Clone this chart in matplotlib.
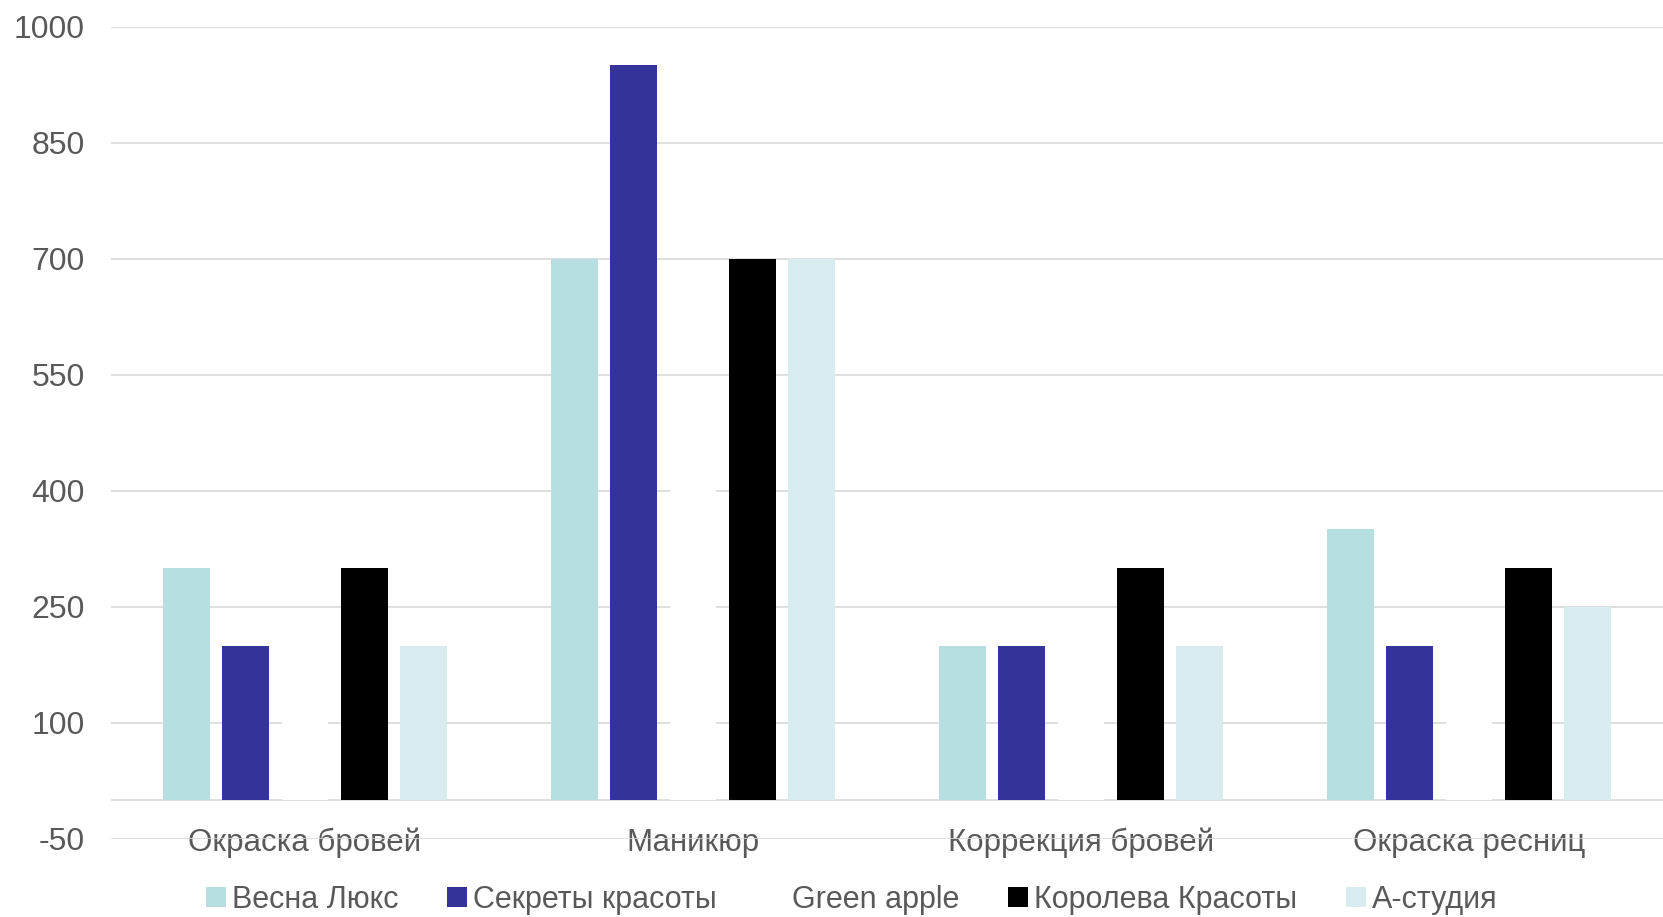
import numpy as np
import matplotlib.pyplot as plt

plt.rcParams["font.family"] = ["Liberation Sans", "DejaVu Sans"]
plt.rcParams["axes.unicode_minus"] = False

categories = ["Окраска бровей", "Маникюр", "Коррекция бровей", "Окраска ресниц"]
series_names = ["Весна Люкс", "Секреты красоты", "Green apple", "Королева Красоты", "А-студия"]
vesna = [300, 700, 200, 350]
sekrety = [200, 950, 200, 200]
green_apple = [200, 500, 200, 200]
koroleva = [300, 700, 300, 300]
a_studio = [200, 700, 200, 250]
yticks = [-50, 100, 250, 400, 550, 700, 850, 1000]

colors = ["#b7dfe2", "#333399", "#ffffff", "#000000", "#d8ebee"]
values = [vesna, sekrety, green_apple, koroleva, a_studio]

fig = plt.figure(figsize=(16.63, 9.17), dpi=100)
ax = fig.add_axes([111 / 1663, 1 - 839 / 917, 1 - 111 / 1663, (839 - 26.5) / 917])

x = np.arange(len(categories))
slot = 0.153
width = 0.121
for i, (name, vals, c) in enumerate(zip(series_names, values, colors)):
    ax.bar(x + (i - 2) * slot, vals, width=width, color=c, label=name, zorder=3)

ax.set_xlim(-0.5, 3.5)
ax.set_ylim(-50, 1000)
ax.set_yticks(yticks)
ax.grid(axis="y", color="#d9d9d9", linewidth=1.2, zorder=0)
ax.axhline(0, color="#d9d9d9", linewidth=1.2, zorder=1)
for s in ax.spines.values():
    s.set_visible(False)

ax.set_xticks(x)
ax.set_xticklabels(categories, fontsize=22.5, color="#595959")
for lbl in ax.get_xticklabels():
    lbl.set_va("center")
ax.tick_params(axis="x", length=0, pad=3)
ax.tick_params(axis="y", length=0, pad=19, labelsize=23, labelcolor="#595959")

leg = fig.legend(loc="center", bbox_to_anchor=(852 / 1663, 1 - 900 / 917), ncol=5,
                 frameon=False, fontsize=22, handlelength=0.65, handleheight=0.65,
                 handletextpad=0.2, columnspacing=1.6, labelcolor="#595959")

fig.savefig("out.png", dpi=100, facecolor="white")
